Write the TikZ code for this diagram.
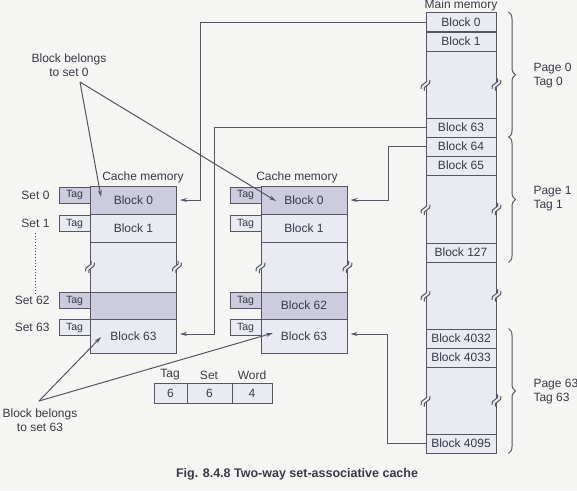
\documentclass[tikz,border=0pt]{standalone}
\usepackage{fontspec}
\setmainfont{Liberation Sans}
\usetikzlibrary{arrows.meta,decorations.pathreplacing,positioning}
\definecolor{linec}{RGB}{85,85,100}
\definecolor{txtc}{RGB}{58,58,70}
\definecolor{lightc}{RGB}{234,234,243}
\definecolor{darkc}{RGB}{204,204,222}
\definecolor{bgc}{RGB}{245,245,243}
\tikzset{
	blk/.style={draw=linec, fill=lightc, text=txtc, inner sep=0pt, minimum width=86pt},
	mblk/.style={blk, minimum width=70pt, minimum height=19pt},
	tagbox/.style={draw=linec, fill=lightc, text=txtc, inner sep=0pt, minimum width=31pt, minimum height=16pt, font=\fontsize{10.5}{12}\selectfont},
	fld/.style={draw=linec, fill=lightc, text=txtc, inner sep=0pt, minimum height=20pt},
	lbl/.style={text=txtc, inner sep=2pt},
	conn/.style={draw=linec, -{Stealth[length=7pt,width=4pt]}},
	pagebrace/.style={draw=linec, decorate, decoration={brace, amplitude=7pt}},
	brk/.pic={
		\begin{scope}[rotate=62]
			\fill[lightc] (-6,-1.8) .. controls (-2,-6.5) and (2,2.9) .. (6,-1.8) -- (6,1.8) .. controls (2,6.5) and (-2,-2.9) .. (-6,1.8) -- cycle;
			\draw[linec] (-6,-1.8) .. controls (-2,-6.5) and (2,2.9) .. (6,-1.8);
			\draw[linec] (-6,1.8) .. controls (-2,-2.9) and (2,6.5) .. (6,1.8);
		\end{scope}
	}
}
\begin{document}
\begin{tikzpicture}[x=1pt, y=-1pt, font=\fontsize{12}{14}\selectfont, line width=1pt]
	\fill[bgc] (0,0) rectangle (577,491);
	\useasboundingbox (0,0) rectangle (577,491);
	% cache memory, first way
	\node[lbl] (cal) at (143,177) {Cache memory};
	\node[blk, fill=darkc, minimum height=28pt] (ca0) at (133.5,200) {Block 0};
	\node[blk, minimum height=28pt] (ca1) at (133.5,228) {Block 1};
	\node[blk, minimum height=50pt] (cagap) at (133.5,267) {};
	\node[blk, fill=darkc, minimum height=27pt] (ca62) at (133.5,305.5) {};
	\node[blk, minimum height=34pt] (ca63) at (133.5,336) {Block 63};
	\node[tagbox, fill=darkc] (ta0) at (74.5,195) {Tag};
	\node[tagbox] (ta1) at (74.5,223.5) {Tag};
	\node[tagbox, fill=darkc] (ta62) at (74.5,300.5) {Tag};
	\node[tagbox] (ta63) at (74.5,327.5) {Tag};
	\pic at (cagap.west) {brk};
	\pic at (cagap.east) {brk};
	% set numbers
	\node[lbl, anchor=east] (s0) at (52,195) {Set 0};
	\node[lbl, anchor=east] (s1) at (52,223.5) {Set 1};
	\node[lbl, anchor=east] (s62) at (52,300.5) {Set 62};
	\node[lbl, anchor=east] (s63) at (52,327.5) {Set 63};
	\draw[linec, dotted] ([yshift=-3pt]s1.south) -- (s1.south |- s62.north);
	% cache memory, second way
	\node[lbl] (cbl) at (297,177) {Cache memory};
	\node[blk, fill=darkc, minimum height=28pt] (cb0) at (304,200) {Block 0};
	\node[blk, minimum height=28pt] (cb1) at (304,228) {Block 1};
	\node[blk, minimum height=50pt] (cbgap) at (304,267) {};
	\node[blk, fill=darkc, minimum height=27pt] (cb62) at (304,305.5) {Block 62};
	\node[blk, minimum height=34pt] (cb63) at (304,336) {Block 63};
	\node[tagbox, fill=darkc] (tb0) at (245.5,195) {Tag};
	\node[tagbox] (tb1) at (245.5,223.5) {Tag};
	\node[tagbox, fill=darkc] (tb62) at (245.5,300.5) {Tag};
	\node[tagbox] (tb63) at (245.5,327.5) {Tag};
	\pic at (cbgap.west) {brk};
	\pic at (cbgap.east) {brk};
	% main memory
	\node[lbl] (ml) at (461,5) {Main memory};
	\node[mblk] (m0) at (461,22) {Block 0};
	\node[mblk] (m1) at (461,41.5) {Block 1};
	\node[mblk, minimum height=67pt] (mg1) at (461,84.5) {};
	\node[mblk] (m63) at (461,127.5) {Block 63};
	\node[mblk] (m64) at (461,146.5) {Block 64};
	\node[mblk] (m65) at (461,165.5) {Block 65};
	\node[mblk, minimum height=68pt] (mg2) at (461,209) {};
	\node[mblk] (m127) at (461,252.5) {Block 127};
	\node[mblk, minimum height=67pt] (mg3) at (461,295.5) {};
	\node[mblk] (m4032) at (461,338.5) {Block 4032};
	\node[mblk] (m4033) at (461,357.5) {Block 4033};
	\node[mblk, minimum height=67pt] (mg4) at (461,400.5) {};
	\node[mblk] (m4095) at (461,443.5) {Block 4095};
	\pic at (mg1.west) {brk};
	\pic at (mg1.east) {brk};
	\pic at (mg2.west) {brk};
	\pic at (mg2.east) {brk};
	\pic at (mg3.west) {brk};
	\pic at (mg3.east) {brk};
	\pic at (mg4.west) {brk};
	\pic at (mg4.east) {brk};
	% pages
	\draw[pagebrace] ([xshift=12pt]m0.north east) -- ([xshift=12pt]m63.south east);
	\draw[pagebrace] ([xshift=12pt]m64.north east) -- ([xshift=12pt]m127.south east);
	\draw[pagebrace] ([xshift=12pt]m4032.north east) -- ([xshift=12pt]m4095.south east);
	\node[lbl, anchor=west, align=left] (p0) at (531,75.5) {Page 0\\Tag 0};
	\node[lbl, anchor=west, align=left] (p1) at (531,198.5) {Page 1\\Tag 1};
	\node[lbl, anchor=west, align=left] (p63) at (531,392) {Page 63\\Tag 63};
	% mapping
	\draw[conn] (m0.west) -- ++(-225,0) |- ([xshift=3pt]ca0.east);
	\draw[conn] (m63.west) -- ++(-211,0) |- ([xshift=3pt,yshift=2pt]ca63.east);
	\draw[conn] (m64.west) -- ++(-37,0) |- ([xshift=3pt]cb0.east);
	\draw[conn] (m4095.west) -- ++(-38,0) |- ([xshift=3pt,yshift=2pt]cb63.east);
	% notes
	\node[lbl, align=center] (n0) at (69,65) {Block belongs\\to set 0};
	\node[lbl, align=center] (n63) at (40,420.5) {Block belongs\\to set 63};
	\coordinate (n0p) at (80,82);
	\coordinate (n63p) at (39,401);
	\coordinate (a0) at (101,197);
	\coordinate (b0) at (276,201);
	\coordinate (a63) at (101,337);
	\coordinate (b63) at (273,333);
	\draw[conn] (n0p) -- (a0);
	\draw[conn] (n0p) -- (b0);
	\draw[conn] (n63p) -- (a63);
	\draw[conn] (n63p) -- (b63);
	% address
	\node[fld, minimum width=33pt] (ftag) at (170.5,393) {6};
	\node[fld, minimum width=45pt] (fset) at (209.5,393) {6};
	\node[fld, minimum width=40pt] (fword) at (252,393) {4};
	\node[lbl] (ltag) at (170,375) {Tag};
	\node[lbl] (lset) at (209,375) {Set};
	\node[lbl] (lword) at (252,375) {Word};
	\node[lbl, font=\fontsize{12.5}{14}\selectfont\bfseries] (cap) at (297,474) {Fig. 8.4.8 Two-way set-associative cache};
\end{tikzpicture}
\end{document}
